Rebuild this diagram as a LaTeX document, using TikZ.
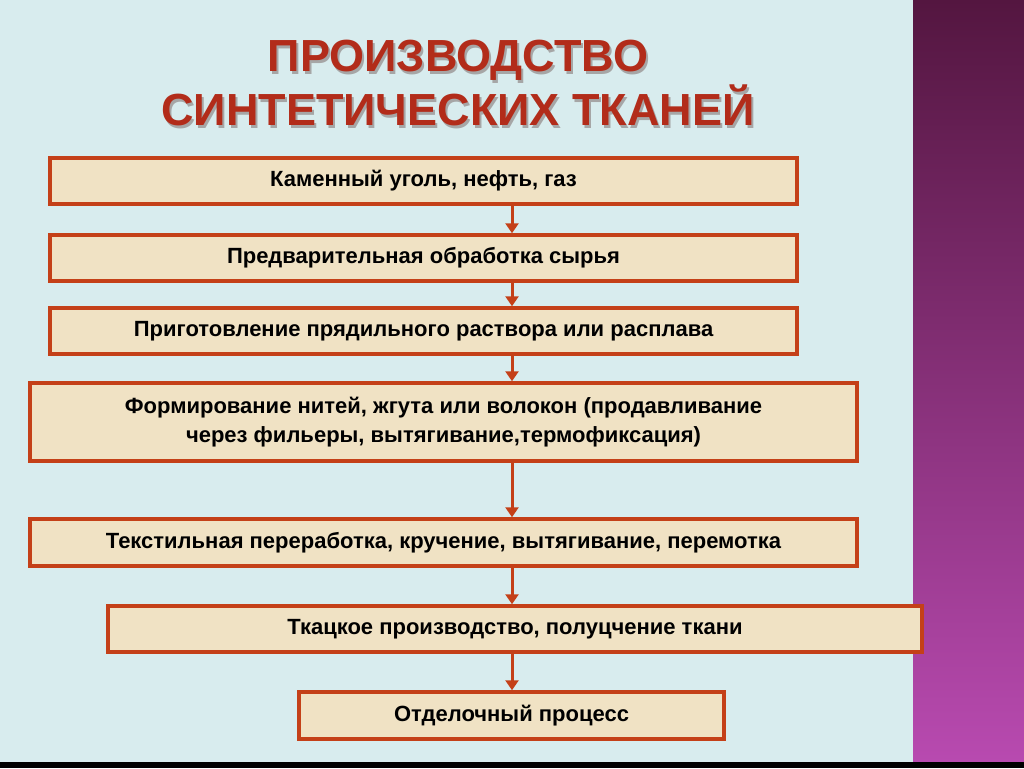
\documentclass[tikz,border=0pt]{standalone}
\usepackage{fontspec}
\setmainfont{Liberation Sans}
\definecolor{bgcyan}{RGB}{216,236,238}
\definecolor{boxfill}{RGB}{240,226,196}
\definecolor{boxline}{RGB}{196,64,24}
\definecolor{titlered}{RGB}{178,44,26}
\definecolor{purpletop}{RGB}{84,22,64}
\definecolor{purplebot}{RGB}{184,74,176}
\tikzset{
  stepbox/.style={draw=boxline, line width=3.5pt, fill=boxfill, align=center,
    font=\fontsize{22}{29}\selectfont\bfseries, inner sep=0pt},
  arr/.style={draw=boxline, line width=3pt, -{Triangle[length=10pt,width=13pt]}},
  ttl/.style={font=\fontsize{45}{48}\selectfont\bfseries}
}
\usetikzlibrary{arrows.meta}
\begin{document}
\begin{tikzpicture}[x=1pt,y=-1pt]
% background and side strip
\fill[bgcyan] (0,0) rectangle (1024,768);
\shade[top color=purpletop, bottom color=purplebot] (913,0) rectangle (1024,762);
\fill[black] (0,762) rectangle (1024,768);
\useasboundingbox (0,0) rectangle (1024,768);
% title with shadow
\foreach \ty/\tt in {60/ПРОИЗВОДСТВО, 105/СИНТЕТИЧЕСКИХ ТКАНЕЙ}{
  \node[ttl, text=black!35] at (460,\ty+3) {\tt};
  \node[ttl, text=titlered] at (458,\ty) {\tt};
}
% process steps
\node[stepbox, minimum width=747pt, minimum height=46pt] (raw) at (423.5,181) {Каменный уголь, нефть, газ};
\node[stepbox, minimum width=747pt, minimum height=46pt] (prep) at (423.5,258) {Предварительная обработка сырья};
\node[stepbox, minimum width=747pt, minimum height=46pt] (melt) at (423.5,331) {Приготовление прядильного раствора или расплава};
\node[stepbox, minimum width=827pt, minimum height=78pt] (form) at (443.5,422) {Формирование нитей, жгута или волокон (продавливание\\через фильеры, вытягивание,термофиксация)};
\node[stepbox, minimum width=827pt, minimum height=47pt] (tex) at (443.5,542.5) {Текстильная переработка, кручение, вытягивание, перемотка};
\node[stepbox, minimum width=814pt, minimum height=46pt] (weave) at (515,629) {Ткацкое производство, полуцчение ткани};
\node[stepbox, minimum width=425pt, minimum height=47pt] (fin) at (511.5,715.5) {Отделочный процесс};
% connectors
\coordinate (ax) at (512,0);
\foreach \a/\b in {raw/prep, prep/melt, melt/form, form/tex, tex/weave, weave/fin}{
  \draw[arr] (\a.south -| ax) -- (\b.north -| ax);
}
\end{tikzpicture}
\end{document}
